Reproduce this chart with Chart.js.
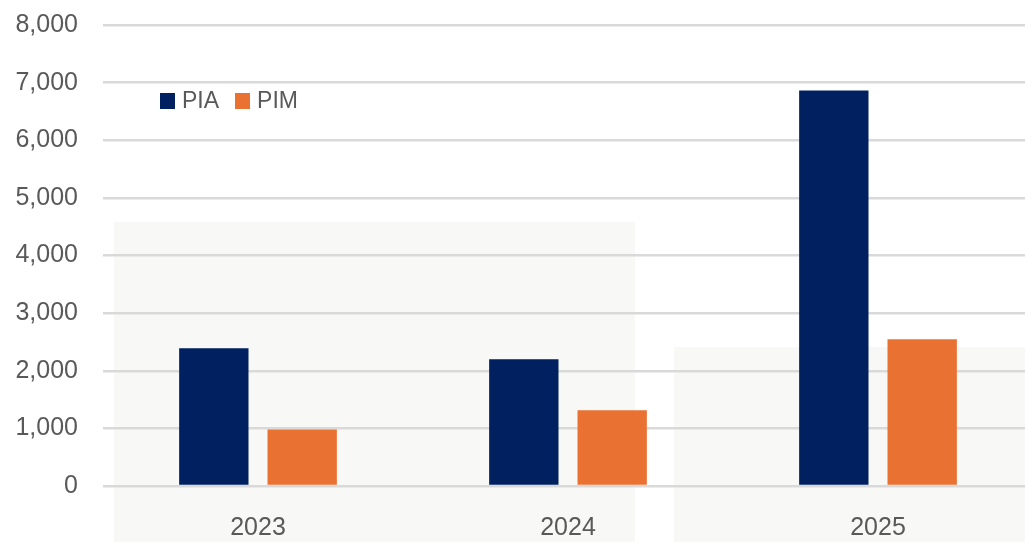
<!DOCTYPE html>
<html>
<head>
<meta charset="utf-8">
<script src="https://cdn.jsdelivr.net/npm/chart.js@4/dist/chart.umd.min.js"></script>
<style>
    html, body { margin: 0; padding: 0; overflow: hidden; background: #fff; }
    #wrap { position: relative; width: 1033px; height: 542px; }
    .shade { position: absolute; background: #f8f8f7; }
    #legend { position: absolute; left: 160px; top: 87px; font: 23px "Liberation Sans", Arial, sans-serif; color: #595959; display: flex; align-items: center; }
    #legend span.box { display: inline-block; width: 15px; height: 16px; margin-right: 7px; }
    #legend span.item { display: flex; align-items: center; margin-right: 16px; }
    canvas { position: absolute; left: 0; top: 0; }
</style>
</head>
<body>
<div id="wrap">
    <div class="shade" style="left:114px; top:222px; width:521px; height:320px;"></div>
    <div class="shade" style="left:674px; top:347px; width:359px; height:195px;"></div>
    <canvas id="chart"></canvas>
    <div id="legend"></div>
</div>
<script>
    const years = ['2023', '2024', '2025'];
    const piaValues = [2390, 2200, 6865];
    const pimValues = [980, 1315, 2545];
    const seriesNames = ['PIA', 'PIM'];
    const seriesColors = ['#002060', '#E97132'];

    const fontFamily = '"Liberation Sans", Arial, sans-serif';

    document.getElementById('legend').innerHTML = seriesNames
        .map((n, i) => `<span class="item"><span class="box" style="background:${seriesColors[i]}"></span>${n}</span>`)
        .join('');

    new Chart(document.getElementById('chart').getContext('2d'), {
        type: 'bar',
        data: {
            labels: years,
            datasets: [
                { label: seriesNames[0], data: piaValues, backgroundColor: seriesColors[0] },
                { label: seriesNames[1], data: pimValues, backgroundColor: seriesColors[1] }
            ]
        },
        options: {
            responsive: true,
            maintainAspectRatio: false,
            animation: false,
            categoryPercentage: 0.57,
            barPercentage: 0.785,
            layout: { padding: { top: 25, left: 0, right: 0, bottom: 0 } },
            plugins: {
                legend: { display: false },
                tooltip: { enabled: false }
            },
            scales: {
                x: {
                    grid: { display: false, drawTicks: false },
                    border: { display: false },
                    ticks: { color: '#595959', font: { family: fontFamily, size: 25 }, padding: 27 },
                    afterFit: s => { s.height = 56; s.paddingLeft = 0; s.paddingRight = 0; }
                },
                y: {
                    min: 0,
                    max: 8000,
                    ticks: {
                        stepSize: 1000,
                        color: '#595959',
                        font: { family: fontFamily, size: 25 },
                        padding: 25,
                        callback: v => v.toLocaleString('en-US')
                    },
                    grid: { color: '#d9d9d9', lineWidth: 2.5, drawTicks: false },
                    border: { display: false },
                    afterFit: s => { s.width = 103; s.paddingTop = 0; s.paddingBottom = 0; }
                }
            }
        }
    });
</script>
</body>
</html>
